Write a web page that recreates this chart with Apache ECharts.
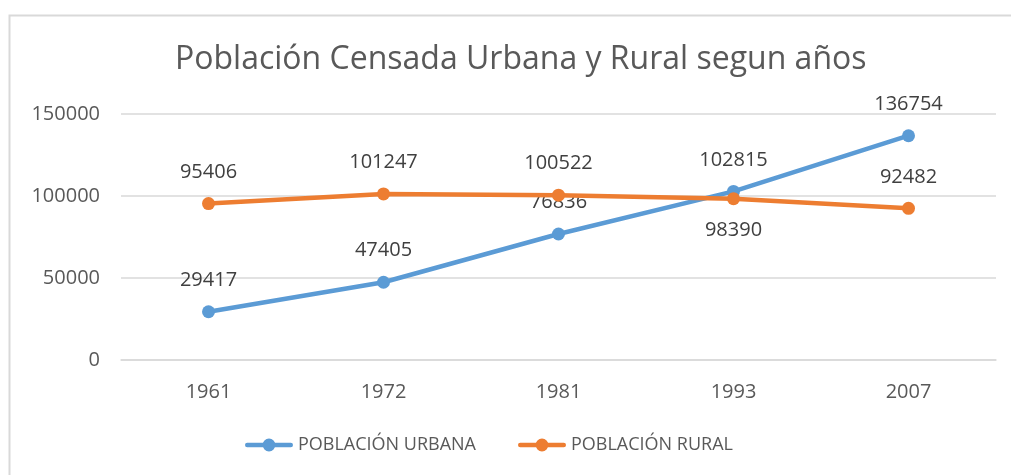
<!DOCTYPE html>
<html lang="es">
  <head>
    <meta charset="UTF-8" />
    <title>Población Censada</title>
    <script src="https://cdn.jsdelivr.net/npm/echarts@6/dist/echarts.min.js"></script>
    <style>
      body { margin: 0; background: #fff; }
    </style>
  </head>
  <body>
    <div id="main" style="width: 1011px; height: 475px"></div>
  </body>
  <script type="text/javascript">
    const years = ["1961", "1972", "1981", "1993", "2007"];
    const urbana = [29417, 47405, 76836, 102815, 136754];
    const rural = [95406, 101247, 100522, 98390, 92482];
    const ruralLabelPos = ["top", "top", "top", "bottom", "top"];

    const font = "'Open Sans', 'Noto Sans', sans-serif";
    // thick line + dot, like the office legend marker
    const legendIcon =
      "path://M2,5.75 L46,5.75 A2.25,2.25 0 0 1 46,10.25 L2,10.25 A2.25,2.25 0 0 1 2,5.75 Z " +
      "M24,1.5 A6.5,6.5 0 1 1 24,14.5 A6.5,6.5 0 1 1 24,1.5 Z";

    var myChart = echarts.init(document.getElementById("main"));

    var option = {
      backgroundColor: "#fff",
      animation: false,
      textStyle: { fontFamily: font },
      graphic: [
        {
          type: "rect",
          shape: { x: 9.5, y: 15.5, width: 1010, height: 470 },
          style: { fill: "none", stroke: "#d9d9d9", lineWidth: 2 },
        },
      ],
      title: {
        text: "Población Censada Urbana y Rural segun años",
        left: 170,
        top: 39,
        textStyle: {
          fontFamily: font,
          fontSize: 32,
          fontWeight: "normal",
          color: "#595959",
        },
      },
      legend: {
        bottom: 16,
        left: 240,
        itemWidth: 48,
        itemHeight: 13,
        itemGap: 42,
        textStyle: { fontSize: 18, color: "#595959", fontFamily: font },
        data: [
          { name: "POBLACIÓN URBANA", icon: legendIcon },
          { name: "POBLACIÓN RURAL", icon: legendIcon },
        ],
      },
      grid: { left: 121, right: 15, top: 114, bottom: 115 },
      xAxis: {
        type: "category",
        data: years,
        axisLine: { lineStyle: { color: "#d9d9d9", width: 1.5 } },
        axisTick: { show: false },
        axisLabel: { fontSize: 20, color: "#595959", margin: 22 },
      },
      yAxis: {
        type: "value",
        min: 0,
        max: 150000,
        interval: 50000,
        axisLine: { show: false },
        axisTick: { show: false },
        splitLine: { lineStyle: { color: "#d9d9d9", width: 1.5 } },
        axisLabel: {
          fontSize: 20,
          color: "#595959",
          margin: 21,
          formatter: (v) => String(v),
        },
      },
      series: [
        {
          name: "POBLACIÓN URBANA",
          type: "line",
          data: urbana,
          color: "#5B9BD5",
          symbol: "circle",
          symbolSize: 13,
          lineStyle: { width: 4.5, cap: "round" },
          label: {
            show: true,
            position: "top",
            distance: 15,
            fontSize: 20,
            color: "#404040",
          },
          z: 3,
        },
        {
          name: "POBLACIÓN RURAL",
          type: "line",
          data: rural.map((v, i) => ({
            value: v,
            label: { position: ruralLabelPos[i] },
          })),
          color: "#ED7D31",
          symbol: "circle",
          symbolSize: 13,
          lineStyle: { width: 4.5, cap: "round" },
          label: {
            show: true,
            position: "top",
            distance: 15,
            fontSize: 20,
            color: "#404040",
          },
          z: 4,
        },
      ],
    };

    option && myChart.setOption(option);
  </script>
</html>
